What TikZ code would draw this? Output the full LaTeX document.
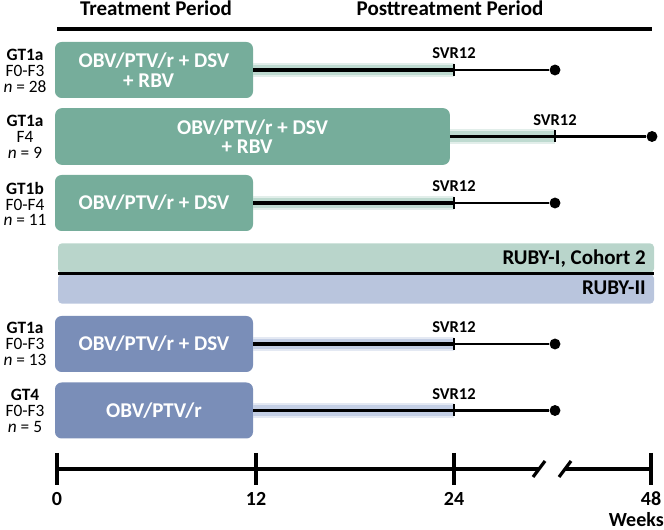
\documentclass[tikz,border=0pt]{standalone}
\usepackage{fontspec}
\setmainfont{Carlito}
\definecolor{tgreen}{RGB}{118,173,155}
\definecolor{tblue}{RGB}{122,142,184}
\definecolor{lgreen}{RGB}{185,213,203}
\definecolor{lblue}{RGB}{185,197,221}
\definecolor{glowg}{RGB}{190,218,208}
\definecolor{glowb}{RGB}{196,207,229}
\begin{document}
\begin{tikzpicture}[x=0.75pt,y=-0.75pt,
  trt/.style={rounded corners=5pt, inner sep=0pt, text=white,
    font=\fontsize{15.75}{14.5}\selectfont\bfseries, align=center},
  gbox/.style={trt, fill=tgreen},
  bbox/.style={trt, fill=tblue},
  grp/.style={font=\fontsize{13}{11.8}\selectfont, align=center, inner sep=0pt},
  svr/.style={font=\fontsize{12.4}{12}\selectfont\bfseries, inner sep=0pt, anchor=base},
  hdr/.style={font=\fontsize{15.75}{16}\selectfont\bfseries, inner sep=0pt, anchor=base},
  axl/.style={font=\fontsize{15}{16}\selectfont\bfseries, inner sep=0pt, anchor=base},
  bline/.style={line width=2.4pt},
  tline/.style={line width=1.9pt},
  glowG/.style={line width=8pt, glowg},
  glowB/.style={line width=8pt, glowb},
  enddot/.style={circle, fill=black, inner sep=0pt, minimum size=8.2pt},
  band/.style={rounded corners=3pt, inner sep=0pt, minimum width=447pt, minimum height=22pt},
]
\useasboundingbox (0,0) rectangle (664,530);

% headers
\node[hdr] (h1) at (156,16) {Treatment Period};
\node[hdr] (h2) at (450,16) {Posttreatment Period};
\coordinate (hl) at (57,29);
\coordinate (hr) at (652,29);
\draw[bline] (hl) -- (hr);

% rows: boxes
\node[gbox, minimum width=148.5pt, minimum height=42pt] (b1) at (154,70)
  {OBV/PTV/r + DSV\\+ RBV\kern8pt};
\node[gbox, minimum width=296pt, minimum height=42.5pt] (b2) at (252.5,136.5)
  {OBV/PTV/r + DSV\\+ RBV\kern8pt};
\node[gbox, minimum width=148.5pt, minimum height=42pt] (b3) at (154,203)
  {OBV/PTV/r + DSV};
\node[bbox, minimum width=148.5pt, minimum height=42pt] (b4) at (154,344)
  {OBV/PTV/r + DSV};
\node[bbox, minimum width=148.5pt, minimum height=42pt] (b5) at (154,410.5)
  {OBV/PTV/r};

% group labels
\node[grp] (g1) at (25,71) {\textbf{GT1a}\\F0-F3\\\textit{n} = 28};
\node[grp] (g2) at (25,137) {\textbf{GT1a}\\F4\\\textit{n} = 9};
\node[grp] (g3) at (25,204) {\textbf{GT1b}\\F0-F4\\\textit{n} = 11};
\node[grp] (g4) at (25,344) {\textbf{GT1a}\\F0-F3\\\textit{n} = 13};
\node[grp] (g5) at (25,411) {\textbf{GT4}\\F0-F3\\\textit{n} = 5};

% SVR12 points and end dots
\coordinate (s1) at (454,70);
\coordinate (s2) at (555,136.5);
\coordinate (s3) at (454,203);
\coordinate (s4) at (454,344);
\coordinate (s5) at (454,410.5);
\node[enddot] (d1) at (555,70) {};
\node[enddot] (d2) at (652,136.5) {};
\node[enddot] (d3) at (555,203) {};
\node[enddot] (d4) at (555,344) {};
\node[enddot] (d5) at (555,410.5) {};

% glow
\draw[glowG, opacity=0.45, line width=11pt] (b1.east) -- (s1);
\draw[glowG] (b1.east) -- (s1);
\draw[glowG, opacity=0.45, line width=11pt] (b2.east) -- (s2);
\draw[glowG] (b2.east) -- (s2);
\draw[glowG, opacity=0.45, line width=11pt] (b3.east) -- (s3);
\draw[glowG] (b3.east) -- (s3);
\draw[glowB, opacity=0.45, line width=11pt] (b4.east) -- (s4);
\draw[glowB] (b4.east) -- (s4);
\draw[glowB, opacity=0.45, line width=11pt] (b5.east) -- (s5);
\draw[glowB] (b5.east) -- (s5);

% lines
\foreach \i in {1,...,5}{
  \draw[bline] (b\i.east) -- (s\i);
  \draw[tline] (s\i) -- (d\i);
  \draw[line width=2.2pt] ([yshift=4.5pt]s\i) -- ([yshift=-4.5pt]s\i);
  \node[svr] (v\i) at ([yshift=8.6pt]s\i) {SVR12};
}

% study bands
\node[band, fill=lgreen] (rb1) at (356,258) {};
\node[band, fill=lblue] (rb2) at (356,289) {};
\coordinate (ml) at (58,273.5);
\coordinate (mr) at (654,273.5);
\draw[bline] (ml) -- (mr);
\node[hdr, anchor=base east] (r1) at (646,265) {RUBY-I, Cohort 2};
\node[hdr, anchor=base east] (r2) at (646,295) {RUBY-II};

% axis
\coordinate (a0) at (57,469);
\coordinate (a12) at (256,469);
\coordinate (a24) at (454,469);
\coordinate (a48) at (651,469);
\coordinate (k1) at (539,469);
\coordinate (k2) at (565,469);
\draw[bline] (a0) -- (k1);
\draw[bline] (k2) -- (a48);
\draw[bline] (533,477) -- (545,461);
\draw[bline] (559,477) -- (571,461);
\foreach \c in {a0,a12,a24,a48}{
  \draw[bline] ([yshift=12pt]\c) -- ([yshift=-12pt]\c);
}
\node[axl] (n0) at (57,506) {0};
\node[axl] (n12) at (256,506) {12};
\node[axl] (n24) at (454,506) {24};
\node[axl] (n48) at (651,506) {48};
\node[axl, anchor=base east] (wk) at (664,527) {Weeks};
\end{tikzpicture}
\end{document}
